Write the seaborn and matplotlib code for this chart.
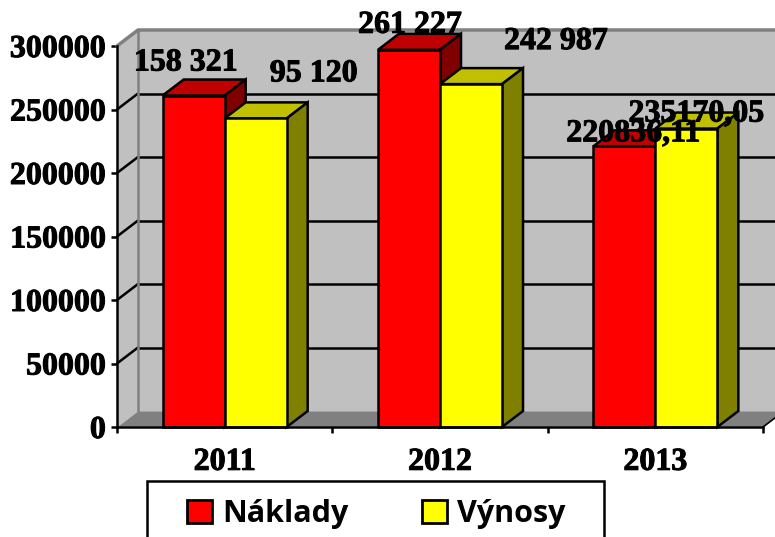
import matplotlib
matplotlib.use("Agg")
import matplotlib.pyplot as plt
import matplotlib.patheffects as pe
import pandas as pd
import seaborn as sns
from matplotlib.patches import Patch, Polygon, Rectangle

years = ["2011", "2012", "2013"]
naklady = [261000, 297000, 221000]
vynosy = [243000, 270000, 235000]
naklady_labels = ["158 321", "261 227", "220836,11"]
vynosy_labels = ["95 120", "242 987", "235170,05"]
y_ticks = [0, 50000, 100000, 150000, 200000, 250000, 300000]

# label offsets from the front top centre of each bar, in pixels
naklady_off = [(-8, 25), (1, 17), (9, 5)]
vynosy_off = [(58, 37), (85, 35), (10, 7)]

df = pd.DataFrame({
    "rok": years * 2,
    "hodnota": naklady + vynosy,
    "serie": ["Náklady"] * 3 + ["Výnosy"] * 3,
})

sns.set_theme(style="white")
plt.rcParams["font.family"] = ["Liberation Serif", "DejaVu Serif"]
plt.rcParams["font.weight"] = "bold"

W, H = 775, 537
fig = plt.figure(figsize=(W / 100, H / 100), dpi=100)
ax = fig.add_axes([117 / W, (H - 427) / H, 646 / W, 381 / H])

colors = {"Náklady": "#ff0000", "Výnosy": "#ffff00"}
lw = 1.8
heavy = [pe.withStroke(linewidth=0.7, foreground="black")]
sns.barplot(data=df, x="rok", y="hodnota", hue="serie", palette=colors, saturation=1,
            width=0.576, gap=0, edgecolor="black", linewidth=lw, legend=False, ax=ax)

ax.set_xlim(-0.5, 2.5)
ax.set_ylim(0, 300000)
ax.set_xlabel("")
ax.set_ylabel("")
ax.patch.set_visible(False)

dx = 21 / 646 * 3
dy = 16 / 381 * 300000
x0, x1 = -0.5, 2.5
gray = "#808080"
wall = "#c0c0c0"

# walls and floor behind the bars
ax.add_patch(Polygon([(x0 + dx, dy), (x1 + dx, dy), (x1 + dx, 300000 + dy), (x0 + dx, 300000 + dy)],
                     fc=wall, ec="none", clip_on=False, zorder=0.5))
ax.add_patch(Polygon([(x0, 0), (x0 + dx, dy), (x0 + dx, 300000 + dy), (x0, 300000)],
                     fc=wall, ec="none", clip_on=False, zorder=0.6))
for t in y_ticks[1:-1]:
    ax.plot([x0 + dx, x1 + dx], [t + dy, t + dy], color="black", lw=lw, clip_on=False, zorder=0.7)
    ax.plot([x0, x0 + dx], [t, t + dy], color="black", lw=lw, clip_on=False, zorder=0.7)
ax.add_patch(Polygon([(x0, 0), (x1, 0), (x1 + dx, dy), (x0 + dx, dy)],
                     fc=gray, ec=wall, lw=0.8, clip_on=False, zorder=0.8))
ax.plot([x0, x0 + dx, x1 + dx], [300000, 300000 + dy, 300000 + dy], color=gray, lw=2.5,
        clip_on=False, zorder=0.9)
ax.plot([x0 + dx, x0 + dx], [dy, 300000 + dy], color=gray, lw=1.8, clip_on=False, zorder=0.9)
ax.plot([x1, x1 + dx], [0, dy], color="black", lw=1.2, clip_on=False, zorder=0.9)

# top and side faces of each bar, yellow series in front of the red one
shades = [("#c00000", "#800000"), ("#c0c000", "#808000")]
for s, cont in enumerate(ax.containers):
    for bar in cont:
        l, r = bar.get_x(), bar.get_x() + bar.get_width()
        h = bar.get_height()
        ax.add_patch(Polygon([(l, h), (r, h), (r + dx, h + dy), (l + dx, h + dy)], fc=shades[s][0],
                             ec="black", lw=lw, clip_on=False, zorder=3 + s))
        ax.add_patch(Polygon([(r, 0), (r + dx, dy), (r + dx, h + dy), (r, h)], fc=shades[s][1],
                             ec="black", lw=lw, clip_on=False, zorder=3 + s))
        bar.set_zorder(3.5 + s)
        bar.set_clip_on(False)

for cont, labels, offs in zip(ax.containers, [naklady_labels, vynosy_labels], [naklady_off, vynosy_off]):
    for bar, txt, off in zip(cont, labels, offs):
        ax.annotate(txt, (bar.get_x() + bar.get_width() / 2, bar.get_height()), xytext=off,
                    textcoords="offset pixels", ha="center", va="baseline", fontsize=23,
                    fontweight="bold", color="black", annotation_clip=False, zorder=8,
                    path_effects=heavy)

sns.despine(ax=ax, top=True, right=True)
for side in ["left", "bottom"]:
    ax.spines[side].set_color("black")
    ax.spines[side].set_linewidth(lw)
    ax.spines[side].set_zorder(6)

ax.set_yticks(y_ticks)
ax.set_yticklabels([str(t) for t in y_ticks], fontsize=23, fontweight="bold", color="black",
                   path_effects=heavy)
ax.tick_params(axis="y", length=4, width=lw, pad=4, color="black", left=True)
ax.set_xticks([-0.5, 0.5, 1.5, 2.5], minor=True)
ax.tick_params(axis="x", which="minor", length=4.5, width=lw, color="black", bottom=True)
ax.tick_params(axis="x", which="major", length=0, pad=15)
ax.set_xticklabels(years, fontsize=23, fontweight="bold", color="black", path_effects=heavy)

# legend box runs off the bottom of the picture
fig.add_artist(Rectangle((147 / W, -0.02), (604 - 147) / W, (H - 481) / H + 0.02, transform=fig.transFigure,
                         fc="white", ec="black", lw=lw))
handles = [Patch(fc=colors[k], ec="black", lw=2, label=k) for k in colors]
leg = fig.legend(handles=handles, loc="upper left", bbox_to_anchor=(187 / W, (H - 499) / H),
                 bbox_transform=fig.transFigure, ncols=2, frameon=False, borderaxespad=0, borderpad=0,
                 handlelength=0.82, handleheight=0.82, handletextpad=0.33, columnspacing=2.4,
                 labelcolor="black", prop={"family": "Open Sans", "weight": "bold", "size": 22})
leg.set_zorder(10)

fig.savefig("out.png", dpi=100)
